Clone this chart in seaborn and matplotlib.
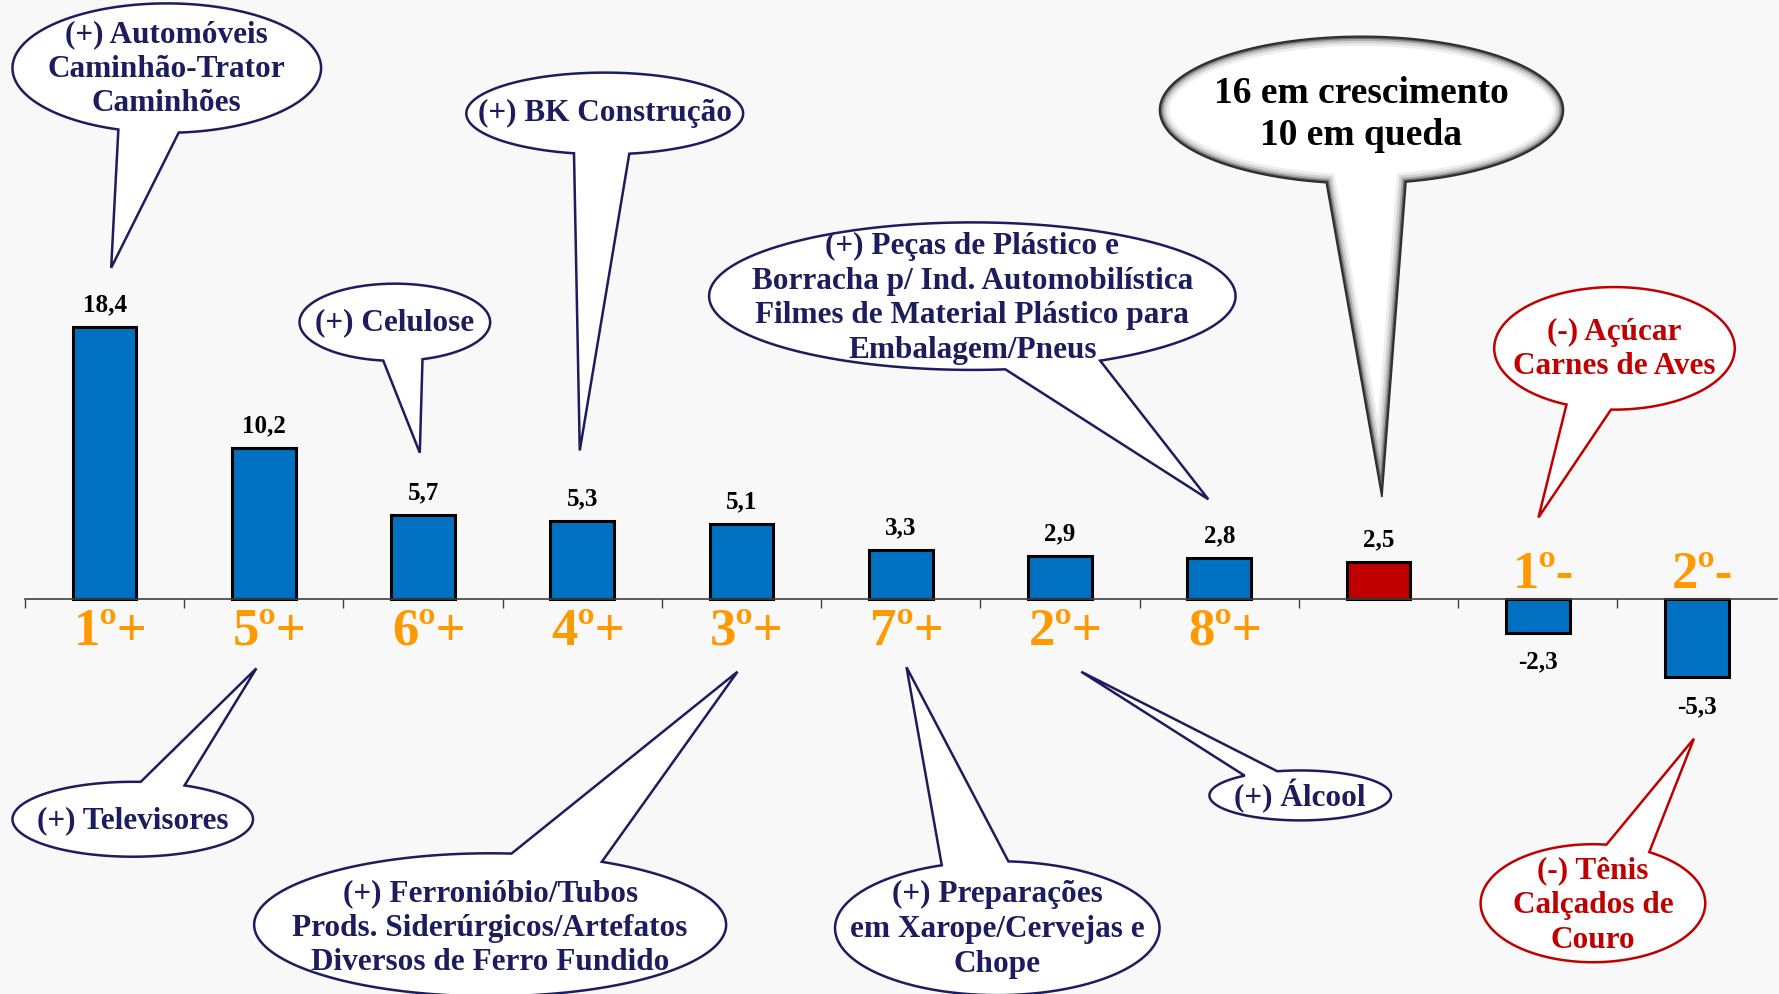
import numpy as np
import pandas as pd
import matplotlib
matplotlib.use("Agg")
import matplotlib.pyplot as plt
import seaborn as sns
from matplotlib.path import Path
from matplotlib.patches import PathPatch

# ---------------- data ----------------
categories = ["1º+", "5º+", "6º+", "4º+", "3º+", "7º+", "2º+", "8º+", "Total", "1º-", "2º-"]
values = [18.4, 10.2, 5.7, 5.3, 5.1, 3.3, 2.9, 2.8, 2.5, -2.3, -5.3]
rank_labels = ["1º+", "5º+", "6º+", "4º+", "3º+", "7º+", "2º+", "8º+", "", "1º-", "2º-"]
bar_colors = ["#0070C0"] * 8 + ["#C00000"] + ["#0070C0"] * 2

NAVY = "#1C1C5E"
RED = "#C00000"
BG = "#F8F8F8"
FONT = "Liberation Serif"

# callout annotations (positions in reference-pixel layout units, 1568x876)
callouts = [
    dict(text="(+) Automóveis\nCaminhão-Trator\nCaminhões", c=(147, 60), w=272, h=114,
         b1=(106, 112), b2=(157, 114), tip=(98, 236), color=NAVY, ty=61),
    dict(text="(+) BK Construção", c=(533, 100), w=244, h=72,
         b1=(506, 135), b2=(555, 136), tip=(511, 397), color=NAVY, ty=100),
    dict(text="(+) Celulose", c=(348, 284), w=168, h=68,
         b1=(338, 317), b2=(372, 316), tip=(370, 399), color=NAVY, ty=284),
    dict(text="(+) Peças de Plástico e\nBorracha p/ Ind. Automobilística\nFilmes de Material Plástico para\nEmbalagem/Pneus",
         c=(857, 261), w=464, h=130, b1=(885, 323), b2=(970, 318), tip=(1065, 440), color=NAVY, ty=263),
    dict(text="(-) Açúcar\nCarnes de Aves", c=(1423, 307), w=212, h=108,
         b1=(1382, 355), b2=(1420, 360), tip=(1356, 456), color=RED, ty=308),
    dict(text="(+) Televisores", c=(117, 722), w=212, h=66,
         b1=(124, 689), b2=(163, 692), tip=(226, 589), color=NAVY, ty=723),
    dict(text="(+) Ferronióbio/Tubos\nProds. Siderúrgicos/Artefatos\nDiversos de Ferro Fundido",
         c=(432, 815), w=416, h=126, b1=(450, 755), b2=(526, 762), tip=(650, 592), color=NAVY, ty=818),
    dict(text="(+) Preparações\nem Xarope/Cervejas e\nChope", c=(879, 818), w=286, h=118,
         b1=(834, 767), b2=(888, 764), tip=(799, 588), color=NAVY, ty=819),
    dict(text="(+) Álcool", c=(1146, 701), w=160, h=44,
         b1=(1101, 685), b2=(1127, 681), tip=(953, 592), color=NAVY, ty=702),
    dict(text="(-) Tênis\nCalçados de\nCouro", c=(1404, 796), w=198, h=104,
         b1=(1416, 744), b2=(1447, 757), tip=(1493, 651), color=RED, ty=798),
]
summary = dict(text="16 em crescimento\n10 em queda", c=(1200, 97), w=356, h=130,
               b1=(1168, 163), b2=(1239, 160), tip=(1218, 438), ty=101)


def bubble_path(c, w, h, b1, b2, tip, n=240):
    cx, cy = c
    a, b = w / 2.0, h / 2.0

    def ang(p):
        return np.arctan2((p[1] - cy) / b, (p[0] - cx) / a)

    t1, t2 = ang(b1), ang(b2)
    d = (t2 - t1) % (2 * np.pi)
    if d > np.pi:
        t1, t2 = t2, t1
        d = 2 * np.pi - d
    ts = np.linspace(t1 + d, t1 + 2 * np.pi, n)
    pts = [(cx + a * np.cos(t), cy + b * np.sin(t)) for t in ts]
    verts = pts + [tip, pts[0]]
    codes = [Path.MOVETO] + [Path.LINETO] * (len(verts) - 2) + [Path.CLOSEPOLY]
    return Path(verts, codes)


# ---------------- figure ----------------
fig = plt.figure(figsize=(17.79, 9.94), dpi=100, facecolor=BG)
ax = fig.add_axes([22 / 1568, 0, 1544 / 1568, 1])
ax.set_facecolor("none")

df = pd.DataFrame({"cat": categories, "val": values})
sns.barplot(data=df, x="cat", y="val", hue="cat", palette=bar_colors, legend=False,
            width=0.4, edgecolor="black", linewidth=2.2, saturation=1, ax=ax)

ax.set_xlim(-0.5, 10.5)
ax.set_ylim(-26.7, 40.5)
for s in ["left", "right", "top"]:
    ax.spines[s].set_visible(False)
ax.spines["bottom"].set_position(("data", 0))
ax.spines["bottom"].set_color("#404040")
ax.spines["bottom"].set_linewidth(1.2)
ax.set_xticks(np.arange(-0.5, 10.0, 1.0))
ax.set_xticklabels([])
ax.tick_params(axis="x", direction="out", length=6.5, width=1, color="#404040")
ax.set_yticks([])
ax.set_xlabel("")
ax.set_ylabel("")

for i, v in enumerate(values):
    lab = f"{v:.1f}".replace(".", ",")
    ax.annotate(lab, (i, v), xytext=(0, 11.2 if v > 0 else -25.5), textcoords="offset points",
                ha="center", va="baseline", fontsize=18, fontweight="bold",
                family=FONT, color="black")
    if rank_labels[i]:
        ax.annotate(rank_labels[i], (i, 0), xytext=(4, -33 if v > 0 else 8.3),
                    textcoords="offset points", ha="center", va="baseline",
                    fontsize=38, fontweight="bold", family=FONT, color="#FF9900")

# overlay for callouts
ov = fig.add_axes([0, 0, 1, 1])
ov.set_xlim(0, 1568)
ov.set_ylim(876, 0)
ov.axis("off")
ov.patch.set_alpha(0)

for cdef in callouts:
    p = bubble_path(cdef["c"], cdef["w"], cdef["h"], cdef["b1"], cdef["b2"], cdef["tip"])
    ov.add_patch(PathPatch(p, facecolor="white", edgecolor=cdef["color"], lw=1.8, zorder=2))
    ov.text(cdef["c"][0], cdef["ty"], cdef["text"], ha="center", va="center",
            fontsize=22.5, fontweight="bold", family=FONT, color=cdef["color"],
            linespacing=1.26, zorder=3)

# summary bubble with shaded rim
p = bubble_path(summary["c"], summary["w"], summary["h"], summary["b1"], summary["b2"], summary["tip"])
base = PathPatch(p, facecolor="white", edgecolor="none", zorder=2)
ov.add_patch(base)
for lw, col in [(14, "#ededed"), (10, "#d2d2d2"), (6.5, "#a8a8a8"), (3.8, "#6a6a6a"), (2, "#303030")]:
    rim = PathPatch(p, facecolor="none", edgecolor=col, lw=lw, zorder=2.5)
    ov.add_patch(rim)
    rim.set_clip_path(base)
ov.add_patch(PathPatch(p, facecolor="none", edgecolor="#303030", lw=1.2, zorder=2.6))
ov.text(summary["c"][0], summary["ty"], summary["text"], ha="center", va="center",
        fontsize=27, fontweight="bold", family=FONT, color="black", linespacing=1.25, zorder=3)

fig.savefig("out.png", dpi=100, facecolor=BG)
